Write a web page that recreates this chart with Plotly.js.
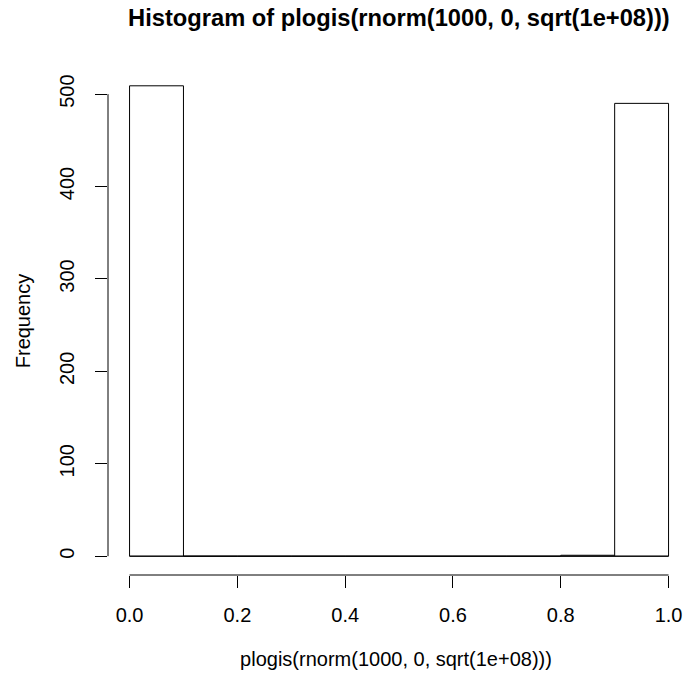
<!DOCTYPE html>
<html>
<head>
<meta charset="utf-8">
<script src="https://cdn.plot.ly/plotly-3.0.1.min.js"></script>
<style>html,body{margin:0;padding:0;background:#fff;}#chart{width:684px;height:676px;}</style>
</head>
<body>
<div id="chart"></div>
<script>
// Histogram data
var breaks = [0, 0.1, 0.2, 0.3, 0.4, 0.5, 0.6, 0.7, 0.8, 0.9, 1.0];
var counts = [509, 0, 0, 0, 0, 0, 0, 0, 1, 490];
var xTickVals = [0, 0.2, 0.4, 0.6, 0.8, 1.0];
var xTickText = ["0.0", "0.2", "0.4", "0.6", "0.8", "1.0"];
var yTickVals = [0, 100, 200, 300, 400, 500];
var yTickText = ["0", "100", "200", "300", "400", "500"];
var mainTitle = "Histogram of plogis(rnorm(1000, 0, sqrt(1e+08)))";
var xTitle = "plogis(rnorm(1000, 0, sqrt(1e+08)))";
var yTitle = "Frequency";

var mids = [], widths = [];
for (var i = 0; i < counts.length; i++) {
  mids.push((breaks[i] + breaks[i + 1]) / 2);
  widths.push(breaks[i + 1] - breaks[i]);
}
var FONT = "Liberation Sans, Arial, Helvetica, sans-serif";

var traces = [
  {
    type: "bar", x: mids, y: counts, width: widths,
    marker: {color: "#ffffff", line: {color: "#000000", width: 1}},
    hoverinfo: "x+y", showlegend: false
  },
  {
    type: "scatter", mode: "lines",
    x: [breaks[0], breaks[breaks.length - 1]], y: [0, 0],
    line: {color: "#000000", width: 1}, hoverinfo: "skip", showlegend: false
  }
];

var layout = {
  width: 684, height: 676,
  paper_bgcolor: "#ffffff", plot_bgcolor: "#ffffff",
  margin: {l: 108, r: 0, t: 67, b: 101, pad: 0},
  font: {family: FONT, size: 20, color: "#000000"},
  title: {
    text: mainTitle,
    font: {family: FONT, size: 23.7, weight: 700, color: "#000000"},
    xref: "paper", x: 0.505, xanchor: "center",
    yref: "container", y: 1 - 18 / 676, yanchor: "middle"
  },
  bargap: 0,
  xaxis: {
    range: [-0.04, -0.04 + 576 / 539],
    showgrid: false, zeroline: false, showline: false,
    tickmode: "array", tickvals: xTickVals, ticktext: xTickText,
    ticks: "outside", ticklen: 12, tickwidth: 1, tickcolor: "#000000",
    ticklabelstandoff: 10,
    tickfont: {family: FONT, size: 20, color: "#000000"},
    title: {text: xTitle, font: {family: FONT, size: 20, color: "#000000"}, standoff: 26},
    automargin: false, fixedrange: true
  },
  yaxis: {
    range: [-20.36, 529.36],
    showgrid: false, zeroline: false, showline: false,
    tickmode: "array", tickvals: yTickVals, ticktext: yTickText,
    ticks: "outside", ticklen: 12, tickwidth: 1, tickcolor: "#000000",
    tickangle: -90, ticklabelstandoff: 13,
    tickfont: {family: FONT, size: 20, color: "#000000"},
    title: {text: yTitle, font: {family: FONT, size: 20, color: "#000000"}, standoff: 20},
    automargin: false, fixedrange: true
  },
  shapes: [
    {type: "line", xref: "x", yref: "paper",
     x0: xTickVals[0], x1: xTickVals[xTickVals.length - 1], y0: 0, y1: 0,
     line: {color: "#000000", width: 1}},
    {type: "line", xref: "paper", yref: "y",
     x0: 0, x1: 0, y0: yTickVals[0], y1: yTickVals[yTickVals.length - 1],
     line: {color: "#000000", width: 1}}
  ]
};

Plotly.newPlot("chart", traces, layout, {displayModeBar: false, staticPlot: true});
</script>
</body>
</html>
